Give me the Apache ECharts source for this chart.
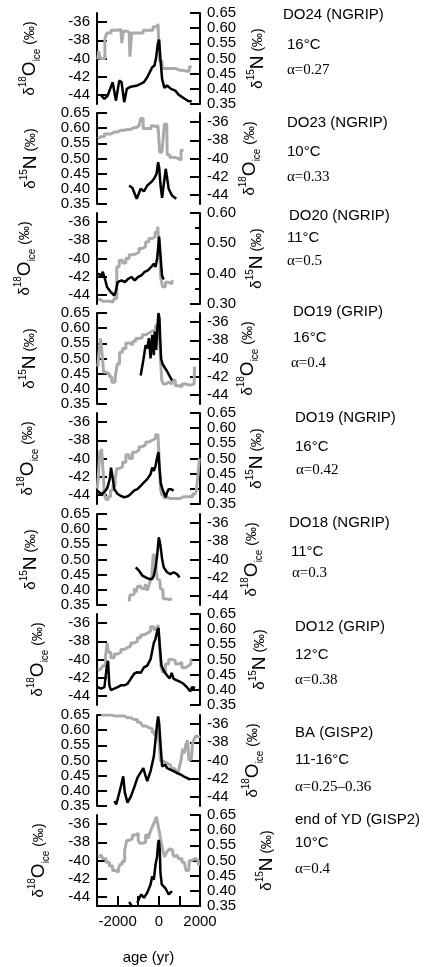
<!DOCTYPE html>
<html>
<head>
<meta charset="utf-8">
<script src="https://cdn.jsdelivr.net/npm/echarts@6/dist/echarts.min.js"></script>
<style>
html, body { margin: 0; padding: 0; background: #fff; }
#chart { width: 434px; height: 967px; }
</style>
</head>
<body>
<div id="chart"></div>
<script>
// gray = d18O ice (permil), black = d15N (permil); [age (yr), value]
var do24Gray = [[-2960,-40.1],[-2880,-39.2],[-2800,-40.0],[-2672,-40.0],[-2560,-37.8],[-2480,-37.2],[-2160,-36.9],[-1840,-36.8],[-1760,-38.3],[-1680,-37.0],[-1440,-37.1],[-1360,-39.8],[-1280,-37.2],[-1040,-37.2],[-480,-36.9],[-80,-36.5],[0,-36.2],[80,-40.3],[240,-41.1],[560,-41.1],[1040,-41.3],[1360,-41.4],[1600,-40.9]];
var do24Black = [[-2800,0.378],[-2640,0.367],[-2480,0.378],[-2240,0.422],[-2080,0.361],[-1920,0.427],[-1808,0.422],[-1680,0.356],[-1552,0.400],[-1360,0.407],[-1040,0.411],[-720,0.422],[-560,0.438],[-400,0.460],[-320,0.471],[-208,0.477],[-128,0.504],[-48,0.549],[16,0.562],[80,0.499],[160,0.433],[272,0.403],[400,0.411],[592,0.400],[800,0.394],[960,0.381],[1200,0.370],[1440,0.359],[1600,0.359]];

var do23Gray = [[-2960,-37.8],[-2800,-37.6],[-2480,-37.3],[-2160,-37.1],[-1840,-36.9],[-1520,-36.8],[-1200,-36.6],[-960,-36.4],[-800,-35.6],[-720,-36.7],[-480,-36.7],[-272,-36.4],[-160,-36.5],[-48,-36.4],[16,-37.1],[64,-39.3],[240,-39.5],[304,-36.2],[384,-36.2],[432,-39.6],[640,-39.9],[960,-40.0],[1040,-40.2],[1120,-39.1],[1200,-39.1]];
var do23Black = [[-1440,0.411],[-1280,0.403],[-1072,0.367],[-880,0.400],[-720,0.392],[-560,0.411],[-368,0.422],[-208,0.436],[-112,0.449],[-32,0.488],[16,0.471],[80,0.416],[160,0.370],[256,0.367],[336,0.466],[400,0.438],[480,0.400],[640,0.378],[848,0.367]];

var do20Gray = [[-2960,-44.5],[-2720,-44.7],[-2480,-44.7],[-2240,-44.8],[-2080,-44.4],[-2000,-40.9],[-1840,-40.2],[-1680,-40.5],[-1520,-40.0],[-1360,-39.6],[-1200,-39.5],[-1040,-39.3],[-880,-38.9],[-720,-38.7],[-560,-38.2],[-400,-37.8],[-240,-37.6],[-112,-37.1],[0,-36.5],[64,-38.9],[128,-42.2],[240,-43.1],[400,-42.6],[560,-42.8],[720,-42.5]];
var do20Black = [[-2960,0.400],[-2800,0.394],[-2720,0.406],[-2608,0.381],[-2512,0.356],[-2352,0.341],[-2160,0.328],[-2080,0.344],[-2000,0.372],[-1808,0.378],[-1648,0.372],[-1488,0.383],[-1328,0.389],[-1168,0.378],[-1008,0.389],[-848,0.394],[-688,0.406],[-528,0.411],[-368,0.422],[-240,0.433],[-160,0.422],[-80,0.450],[16,0.522],[80,0.461],[160,0.392],[240,0.381]];

var do19gGray = [[-2960,-40.9],[-2864,-39.6],[-2800,-37.8],[-2720,-39.3],[-2640,-41.5],[-2480,-41.7],[-2320,-42.0],[-2240,-42.6],[-2128,-42.6],[-2064,-41.7],[-1968,-40.6],[-1840,-39.3],[-1680,-38.9],[-1520,-38.3],[-1328,-38.5],[-1200,-38.1],[-1040,-37.8],[-880,-37.7],[-720,-37.4],[-560,-37.2],[-400,-37.0],[-240,-36.9],[-80,-36.4],[0,-36.1],[48,-37.4],[112,-40.0],[176,-42.4],[272,-42.8],[400,-42.6],[560,-42.8],[720,-42.4],[880,-43.0],[1040,-43.1],[1200,-42.8],[1440,-42.9],[1712,-42.8],[1760,-40.9]];
var do19gBlack = [[-880,0.444],[-752,0.494],[-640,0.544],[-560,0.533],[-480,0.567],[-400,0.500],[-320,0.578],[-240,0.511],[-192,0.589],[-128,0.528],[-64,0.606],[-16,0.650],[32,0.633],[64,0.572],[112,0.500],[176,0.483],[272,0.472],[400,0.458],[528,0.442],[640,0.428]];

var do19nGray = [[-2992,-43.3],[-2896,-42.2],[-2832,-39.3],[-2720,-39.0],[-2672,-41.8],[-2608,-44.0],[-2512,-44.5],[-2400,-44.2],[-2288,-43.5],[-2160,-43.0],[-2080,-42.2],[-2000,-41.1],[-1840,-40.9],[-1680,-40.4],[-1520,-39.6],[-1360,-40.0],[-1200,-39.3],[-1040,-39.1],[-880,-38.7],[-720,-38.5],[-560,-38.2],[-400,-38.0],[-240,-37.8],[-80,-37.4],[0,-37.6],[48,-40.4],[112,-43.3],[176,-44.0],[320,-44.3],[560,-44.4],[880,-44.4],[1200,-44.2],[1520,-44.2],[1760,-43.9],[1872,-43.6],[1936,-41.8],[2000,-40.0]];
var do19nBlack = [[-2992,0.394],[-2880,0.388],[-2768,0.383],[-2640,0.390],[-2512,0.401],[-2432,0.419],[-2368,0.437],[-2320,0.470],[-2240,0.437],[-2160,0.399],[-2000,0.383],[-1840,0.377],[-1680,0.372],[-1520,0.375],[-1360,0.383],[-1200,0.394],[-1040,0.399],[-880,0.410],[-720,0.421],[-560,0.432],[-400,0.448],[-320,0.470],[-240,0.459],[-160,0.475],[-80,0.503],[-16,0.521],[32,0.470],[96,0.419],[176,0.399],[272,0.394],[336,0.372],[400,0.388],[480,0.399],[592,0.399],[720,0.394]];

var do18Gray = [[-1440,-44.6],[-1360,-43.9],[-1232,-43.8],[-1152,-43.2],[-1072,-43.6],[-992,-43.0],[-880,-42.9],[-800,-43.2],[-688,-43.2],[-608,-42.7],[-528,-43.4],[-448,-42.9],[-368,-42.3],[-304,-41.8],[-240,-39.5],[-144,-39.5],[-112,-41.1],[-48,-42.1],[48,-42.3],[112,-43.2],[192,-43.3],[240,-44.3],[400,-44.4],[640,-44.3]];
var do18Black = [[-1120,0.474],[-960,0.463],[-800,0.447],[-640,0.441],[-480,0.436],[-320,0.436],[-240,0.447],[-160,0.474],[-80,0.513],[0,0.573],[80,0.546],[160,0.502],[240,0.474],[400,0.458],[560,0.452],[720,0.458],[880,0.452],[1008,0.441]];

var do12Gray = [[-2960,-41.2],[-2800,-41.0],[-2640,-40.7],[-2528,-39.6],[-2480,-38.2],[-2416,-39.2],[-2240,-39.8],[-2080,-39.4],[-1920,-39.2],[-1760,-38.9],[-1600,-38.7],[-1440,-38.5],[-1280,-38.2],[-1120,-38.0],[-960,-37.6],[-800,-37.3],[-640,-37.1],[-480,-36.9],[-320,-36.4],[-160,-36.7],[-80,-36.5],[0,-36.2],[64,-38.2],[144,-40.7],[240,-41.4],[400,-40.5],[560,-40.0],[720,-40.1],[880,-40.5],[1040,-40.3],[1200,-40.9],[1360,-40.7],[1520,-40.5],[1600,-40.0]];
var do12Black = [[-2960,0.409],[-2800,0.404],[-2640,0.409],[-2528,0.474],[-2464,0.496],[-2400,0.415],[-2320,0.399],[-2160,0.404],[-2000,0.409],[-1840,0.415],[-1680,0.415],[-1520,0.420],[-1360,0.436],[-1200,0.453],[-1040,0.458],[-880,0.456],[-720,0.474],[-560,0.480],[-400,0.501],[-240,0.555],[-160,0.568],[-80,0.593],[-16,0.604],[48,0.544],[128,0.480],[240,0.463],[400,0.447],[528,0.438],[624,0.456],[720,0.436],[880,0.431],[1040,0.426],[1200,0.420],[1360,0.409],[1520,0.395],[1616,0.409],[1760,0.406]];

var baGray = [[-2800,-35.0],[-2480,-35.0],[-2160,-35.1],[-1840,-35.1],[-1520,-35.3],[-1200,-35.5],[-880,-35.8],[-720,-36.2],[-560,-36.4],[-400,-36.5],[-240,-36.9],[-160,-37.3],[-80,-36.7],[0,-37.1],[48,-38.2],[96,-40.0],[240,-40.1],[400,-40.3],[560,-40.5],[720,-40.9],[880,-41.2],[960,-41.6],[1040,-40.7],[1120,-40.0],[1200,-38.7],[1280,-39.2],[1360,-38.2],[1440,-37.8],[1488,-40.0],[1584,-39.8],[1680,-38.2],[1760,-37.6],[1840,-37.3],[1920,-37.4],[2000,-37.3]];
var baBlack = [[-2160,0.366],[-2064,0.355],[-1968,0.361],[-1840,0.415],[-1728,0.448],[-1648,0.394],[-1520,0.361],[-1360,0.381],[-1200,0.410],[-1040,0.443],[-880,0.461],[-752,0.475],[-640,0.448],[-560,0.432],[-400,0.465],[-240,0.514],[-160,0.568],[-80,0.623],[-32,0.645],[16,0.623],[80,0.557],[160,0.481],[240,0.475],[320,0.486],[400,0.475],[560,0.470],[720,0.465],[880,0.459],[1040,0.454],[1200,0.448],[1360,0.443],[1520,0.437]];

var ydGray = [[-2960,-39.6],[-2800,-39.4],[-2640,-39.8],[-2480,-40.2],[-2320,-40.6],[-2160,-41.1],[-2000,-41.3],[-1920,-40.9],[-1840,-40.4],[-1712,-40.1],[-1600,-38.9],[-1520,-37.8],[-1360,-37.6],[-1200,-37.2],[-1040,-37.0],[-960,-37.8],[-880,-38.1],[-720,-38.0],[-560,-37.2],[-480,-37.6],[-400,-37.0],[-320,-36.5],[-240,-36.1],[-160,-35.7],[-80,-35.2],[0,-36.1],[80,-37.0],[160,-38.1],[240,-38.9],[320,-39.6],[400,-39.2],[480,-38.9],[560,-38.7],[640,-38.9],[720,-39.3],[800,-39.6],[880,-39.4],[1040,-39.8],[1200,-40.2],[1280,-40.4],[1360,-41.1],[1456,-41.1],[1520,-40.0],[1680,-39.8],[1840,-40.0],[2000,-40.4]];
var ydBlack = [[-1440,0.363],[-1328,0.352],[null,null],[-1040,0.361],[-944,0.377],[-848,0.388],[-720,0.377],[-560,0.394],[-400,0.421],[-320,0.448],[-240,0.437],[-160,0.486],[-80,0.514],[-32,0.557],[0,0.568],[48,0.535],[80,0.459],[144,0.421],[240,0.418],[336,0.407],[400,0.402],[480,0.388],[560,0.394],[640,0.399]];

var grayData = [do24Gray, do23Gray, do20Gray, do19gGray, do19nGray, do18Gray, do12Gray, baGray, ydGray];
var blackData = [do24Black, do23Black, do20Black, do19gBlack, do19nBlack, do18Black, do12Black, baBlack, ydBlack];

var panelTitles = ['DO24 (NGRIP)', 'DO23 (NGRIP)', 'DO20 (NGRIP)', 'DO19 (GRIP)', 'DO19 (NGRIP)', 'DO18 (NGRIP)', 'DO12 (GRIP)', 'BA (GISP2)', 'end of YD (GISP2)'];
var panelTemps = ['16°C', '10°C', '11°C', '16°C', '16°C', '11°C', '12°C', '11-16°C', '10°C'];
var panelAlphas = ['α=0.27', 'α=0.33', 'α=0.5', 'α=0.4', 'α=0.42', 'α=0.3', 'α=0.38', 'α=0.25–0.36', 'α=0.4'];
var o18OnLeft = [true, false, true, false, true, false, true, false, true];
var n15Min = [0.35, 0.35, 0.30, 0.35, 0.35, 0.35, 0.35, 0.35, 0.35];
var n15Max = [0.65, 0.65, 0.60, 0.65, 0.65, 0.65, 0.65, 0.65, 0.65];

var o18Ticks = [-44, -42, -40, -38, -36];
var n15Ticks = [0.35, 0.40, 0.45, 0.50, 0.55, 0.60, 0.65];
var ageLabels = [-2000, 0, 2000];

// layout
var tops = [13, 113, 213, 313, 413, 514, 614, 715, 815];
var plotH = 91;
var leftGap = [55, 54, 60, 55, 57, 54, 47, 0, 46];
var rightGap = [46, 38, 45, 36, 45, 40, 48, 41, 55];
var textPos = [
  [283, 15, 287, 45, 287, 70], [287, 123, 287, 152, 287, 177], [289, 216, 287, 238, 287, 261],
  [293, 312, 293, 338, 291, 363], [295, 418, 295, 447, 296, 470], [289, 523, 291, 552, 292, 573],
  [295, 627, 295, 655, 295, 680], [295, 733, 295, 760, 295, 787], [295, 820, 295, 843, 295, 869]
];

var sans = '"Liberation Sans", Arial, Helvetica, sans-serif';
var serif = '"Liberation Serif", "Times New Roman", serif';

var nameRich = {
  d: { fontSize: 15, fontFamily: sans, color: '#000', lineHeight: 24 },
  s: { fontSize: 10, fontFamily: sans, color: '#000', verticalAlign: 'top', lineHeight: 12 },
  o: { fontSize: 19, fontFamily: sans, color: '#000', lineHeight: 24 },
  b: { fontSize: 10, fontFamily: sans, color: '#000', verticalAlign: 'bottom', lineHeight: 12 },
  p: { fontSize: 14, fontFamily: sans, color: '#000', lineHeight: 24 }
};
var o18Name = '{d|δ}{s|18}{o|O}{b|ice}{p| (‰)}';
var n15Name = '{d|δ}{s|15}{o|N}{p| (‰)}';

var chart = echarts.init(document.getElementById('chart'));
var grids = [], xAxes = [], yAxes = [], series = [], graphics = [];

function yAxisBase(i, pos, gap, name) {
  return {
    gridIndex: i, type: 'value', position: pos,
    axisLine: { show: true, onZero: false, lineStyle: { color: '#000', width: 2 } },
    axisTick: { show: true, inside: true, length: 10, lineStyle: { color: '#000', width: 2 } },
    axisLabel: { color: '#000', fontSize: 15, fontFamily: sans, margin: 7 },
    splitLine: { show: false },
    name: name, nameLocation: 'middle', nameRotate: 90, nameGap: gap,
    nameTextStyle: { rich: nameRich }
  };
}

for (var i = 0; i < 9; i++) {
  grids.push({ left: 97, width: 103, top: tops[i], height: plotH });
  var last = i === 8;
  xAxes.push({
    gridIndex: i, type: 'value', min: -3000, max: 2000, interval: 1000, show: last,
    axisLine: { onZero: false, lineStyle: { color: '#000', width: 2 } },
    axisTick: { inside: true, length: 10, lineStyle: { color: '#000', width: 2 } },
    axisLabel: {
      color: '#000', fontSize: 15, fontFamily: sans, margin: 8,
      formatter: function (v) { return ageLabels.indexOf(v) >= 0 ? String(v) : ''; }
    },
    splitLine: { show: false },
    name: last ? 'age (yr)' : '', nameLocation: 'middle', nameGap: 44,
    nameTextStyle: { color: '#000', fontSize: 15, fontFamily: sans }
  });

  var oPos = o18OnLeft[i] ? 'left' : 'right';
  var nPos = o18OnLeft[i] ? 'right' : 'left';
  var oGap = o18OnLeft[i] ? leftGap[i] : rightGap[i];
  var nGap = o18OnLeft[i] ? rightGap[i] : leftGap[i];

  var oAxis = yAxisBase(i, oPos, oGap, o18Name);
  oAxis.min = -45; oAxis.max = -35;
  oAxis.axisTick.customValues = o18Ticks;
  oAxis.axisLabel.customValues = o18Ticks;

  var nAxis = yAxisBase(i, nPos, nGap, (i === 7) ? '' : n15Name);
  nAxis.min = n15Min[i]; nAxis.max = n15Max[i];
  nAxis.axisLabel.formatter = function (v) { return v.toFixed(2); };
  if (i === 2) {
    nAxis.interval = 0.1;
    nAxis.minorTick = { show: true, splitNumber: 2, length: 5, lineStyle: { color: '#000', width: 2 } };
  } else {
    nAxis.axisTick.customValues = n15Ticks;
    nAxis.axisLabel.customValues = n15Ticks;
  }
  yAxes.push(oAxis);
  yAxes.push(nAxis);

  series.push({
    type: 'line', xAxisIndex: i, yAxisIndex: 2 * i, data: grayData[i],
    step: 'middle', symbol: 'none', connectNulls: false,
    lineStyle: { color: '#aaaaaa', width: 3 }
  });
  series.push({
    type: 'line', xAxisIndex: i, yAxisIndex: 2 * i + 1, data: blackData[i],
    symbol: 'none', connectNulls: false,
    lineStyle: { color: '#000', width: 2.5 }
  });

  var tp = textPos[i];
  graphics.push({ type: 'text', x: tp[0], y: tp[1], style: { text: panelTitles[i], fontSize: 15, fontFamily: sans, fill: '#000', verticalAlign: 'middle' } });
  graphics.push({ type: 'text', x: tp[2], y: tp[3], style: { text: panelTemps[i], fontSize: 15, fontFamily: sans, fill: '#000', verticalAlign: 'middle' } });
  graphics.push({ type: 'text', x: tp[4], y: tp[5], style: { text: panelAlphas[i], fontSize: 15, fontFamily: serif, fill: '#000', verticalAlign: 'middle' } });
}

chart.setOption({
  animation: false,
  backgroundColor: '#fff',
  grid: grids,
  xAxis: xAxes,
  yAxis: yAxes,
  series: series,
  graphic: graphics
});
</script>
</body>
</html>
